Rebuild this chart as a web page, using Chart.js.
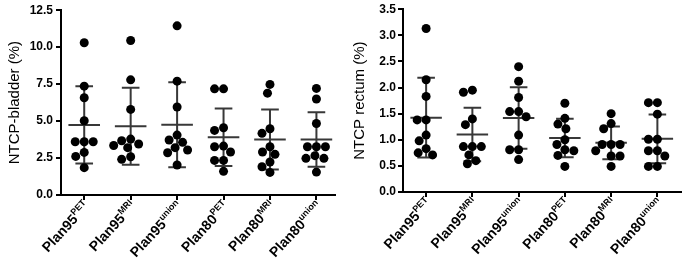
<!DOCTYPE html>
<html>
<head>
<meta charset="utf-8">
<script src="https://cdn.jsdelivr.net/npm/chart.js@4.4.1/dist/chart.umd.min.js"></script>
<style>
    body { margin: 0; background: #fff; }
    .panel { position: absolute; top: 0; }
</style>
</head>
<body>
<div class="panel" style="left:0"><canvas id="bladderChart" width="340" height="264"></canvas></div>
<div class="panel" style="left:340px"><canvas id="rectumChart" width="345" height="264"></canvas></div>
<script>
// Group labels (plan name + superscript image set)
const planNames = ['Plan95', 'Plan95', 'Plan95', 'Plan80', 'Plan80', 'Plan80'];
const imageSets = ['PET', 'MRI', 'union', 'PET', 'MRI', 'union'];

// NTCP bladder (%) per patient
const bladder95PET = [10.3, 7.36, 6.58, 5.02, 3.6, 3.6, 3.6, 2.88, 2.61, 1.85];
const bladder95MRI = [10.45, 7.79, 5.79, 3.78, 3.67, 3.45, 3.35, 3.2, 2.59, 2.41];
const bladder95Union = [11.44, 7.7, 5.95, 4.05, 3.72, 3.56, 3.2, 3.04, 2.86, 2.03];
const bladder80PET = [7.18, 7.18, 4.55, 4.37, 3.31, 3.26, 2.91, 2.34, 2.34, 1.6];
const bladder80MRI = [7.48, 6.89, 4.48, 4.17, 3.26, 2.91, 2.75, 2.23, 1.91, 1.53];
const bladder80Union = [7.21, 6.49, 4.84, 3.26, 3.26, 3.26, 2.66, 2.48, 2.48, 1.55];

// NTCP rectum (%) per patient
const rectum95PET = [3.13, 2.15, 1.83, 1.38, 1.38, 1.09, 0.98, 0.83, 0.75, 0.71];
const rectum95MRI = [1.95, 1.91, 1.40, 1.29, 0.87, 0.87, 0.87, 0.71, 0.60, 0.54];
const rectum95Union = [2.40, 2.12, 1.81, 1.54, 1.54, 1.44, 1.09, 0.81, 0.81, 0.62];
const rectum80PET = [1.70, 1.41, 1.30, 1.21, 1.00, 0.91, 0.81, 0.79, 0.70, 0.49];
const rectum80MRI = [1.50, 1.31, 1.21, 0.91, 0.91, 0.91, 0.79, 0.69, 0.69, 0.49];
const rectum80Union = [1.71, 1.71, 1.49, 1.01, 1.01, 0.79, 0.79, 0.69, 0.49, 0.49];

// Y tick labels
const bladderTicks = [0, 2.5, 5, 7.5, 10, 12.5];
const rectumTicks = [0, 0.5, 1, 1.5, 2, 2.5, 3, 3.5];

const FONT = "'Liberation Sans', Arial, sans-serif";
const barColor = '#383838';

// simple beeswarm: spread equal-ish values sideways so dots don't pile up
function swarm(values, pxPerUnit, catPx, gap) {
    const placed = [];
    return values.map(function(v) {
        const y = v * pxPerUnit;
        let pos = 0, found = false;
        for (let s = 0; s < 80 && !found; s += 0.5) {
            const tries = s === 0 ? [0] : [-s, s];
            for (const x of tries) {
                if (placed.every(p => Math.hypot(p.x - x, p.y - y) >= gap)) {
                    pos = x; found = true; break;
                }
            }
        }
        placed.push({ x: pos, y: y });
        return pos / catPx;
    });
}

function stats(values) {
    const n = values.length;
    const mean = values.reduce((a, b) => a + b, 0) / n;
    const sd = Math.sqrt(values.reduce((a, b) => a + (b - mean) * (b - mean), 0) / (n - 1));
    return { mean: mean, sd: sd };
}

// mean line + SD whiskers, drawn under the dots
const meanSdPlugin = {
    id: 'meanSd',
    beforeDatasetsDraw(chart) {
        const ctx = chart.ctx, xs = chart.scales.x, ys = chart.scales.y;
        ctx.save();
        ctx.strokeStyle = barColor;
        ctx.lineWidth = 2;
        chart.data.datasets.forEach(function(ds) {
            const st = stats(ds.values);
            const g = ds.group;
            const yMean = ys.getPixelForValue(st.mean);
            const yTop = ys.getPixelForValue(st.mean + st.sd);
            const yBot = ys.getPixelForValue(st.mean - st.sd);
            const xc = xs.getPixelForValue(g);
            ctx.beginPath();
            ctx.moveTo(xs.getPixelForValue(g - 0.34), yMean);
            ctx.lineTo(xs.getPixelForValue(g + 0.34), yMean);
            ctx.moveTo(xc, yTop);
            ctx.lineTo(xc, yBot);
            ctx.moveTo(xs.getPixelForValue(g - 0.19), yTop);
            ctx.lineTo(xs.getPixelForValue(g + 0.19), yTop);
            ctx.moveTo(xs.getPixelForValue(g - 0.19), yBot);
            ctx.lineTo(xs.getPixelForValue(g + 0.19), yBot);
            ctx.stroke();
        });
        ctx.restore();
    }
};

// rotated category labels with superscript
const xLabelPlugin = {
    id: 'xLabels',
    afterDraw(chart) {
        const ctx = chart.ctx, xs = chart.scales.x;
        const bottom = chart.chartArea.bottom;
        ctx.save();
        ctx.fillStyle = '#000';
        ctx.textAlign = 'right';
        ctx.textBaseline = 'alphabetic';
        planNames.forEach(function(name, i) {
            const px = xs.getPixelForValue(i);
            ctx.save();
            ctx.translate(px + 2, bottom + 8);
            ctx.rotate(-47 * Math.PI / 180);
            ctx.font = 'bold 9px ' + FONT;
            ctx.fillText(imageSets[i], 0, 0);
            const w = ctx.measureText(imageSets[i]).width;
            ctx.font = 'bold 14px ' + FONT;
            ctx.fillText(name, -w, 6);
            ctx.restore();
        });
        ctx.restore();
    }
};

function makeChart(canvasId, groups, opts) {
    const datasets = groups.map(function(values, g) {
        const offs = swarm(values, opts.pxPerUnit, opts.catPx, 9);
        return {
            group: g,
            values: values,
            data: values.map((v, k) => ({ x: g + offs[k], y: v })),
            backgroundColor: '#000',
            borderWidth: 0,
            pointRadius: 4.5,
            pointHoverRadius: 4.5
        };
    });

    const axisLine = {
        display: true,
        drawOnChartArea: false,
        drawTicks: true,
        tickLength: 5,
        lineWidth: 2,
        color: '#000'
    };

    return new Chart(document.getElementById(canvasId), {
        type: 'scatter',
        data: { datasets: datasets },
        options: {
            responsive: false,
            animation: false,
            events: [],
            layout: { padding: { top: opts.padTop, right: opts.padRight, left: 0, bottom: 0 } },
            plugins: { legend: { display: false }, tooltip: { enabled: false } },
            scales: {
                x: {
                    type: 'linear',
                    min: -0.5,
                    max: opts.xMax,
                    afterBuildTicks: function(s) { s.ticks = planNames.map((n, i) => ({ value: i })); },
                    afterFit: function(s) { s.height = opts.xHeight; },
                    ticks: { display: false },
                    grid: axisLine,
                    border: { display: true, color: '#000', width: 2 }
                },
                y: {
                    min: 0,
                    max: opts.yTicks[opts.yTicks.length - 1],
                    afterBuildTicks: function(s) { s.ticks = opts.yTicks.map(v => ({ value: v })); },
                    afterFit: function(s) { s.width = opts.yWidth; },
                    ticks: {
                        padding: opts.tickPad,
                        color: '#000',
                        font: { family: FONT, size: 12, weight: 'bold' },
                        callback: function(v) { return v.toFixed(1); }
                    },
                    grid: axisLine,
                    border: { display: true, color: '#000', width: 2 },
                    title: {
                        display: true,
                        text: opts.title,
                        color: '#000',
                        font: { family: FONT, size: 15 },
                        padding: { top: opts.titlePad, bottom: 0 }
                    }
                }
            }
        },
        plugins: [meanSdPlugin, xLabelPlugin]
    });
}

makeChart('bladderChart',
    [bladder95PET, bladder95MRI, bladder95Union, bladder80PET, bladder80MRI, bladder80Union],
    { title: 'NTCP-bladder (%)', yTicks: bladderTicks, pxPerUnit: 14.8, catPx: 46.5,
      padTop: 10, padRight: 5, xMax: 5.4, xHeight: 69, yWidth: 61, tickPad: 3, titlePad: 6 });

makeChart('rectumChart',
    [rectum95PET, rectum95MRI, rectum95Union, rectum80PET, rectum80MRI, rectum80Union],
    { title: 'NTCP rectum (%)', yTicks: rectumTicks, pxPerUnit: 52.6, catPx: 46.5,
      padTop: 7, padRight: 2, xMax: 5.5, xHeight: 72, yWidth: 63, tickPad: 2, titlePad: 11 });
</script>
</body>
</html>
